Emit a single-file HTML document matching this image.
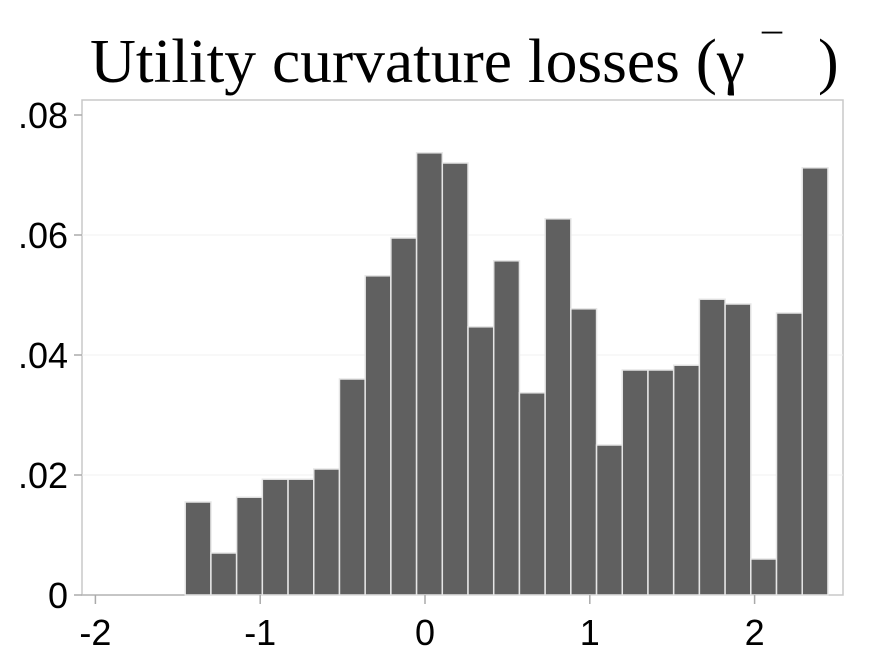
<!DOCTYPE html>
<html><head><meta charset="utf-8"><style>
html,body{margin:0;padding:0;background:#fff;}
svg{display:block;font-family:"Liberation Sans",Arial,sans-serif;}
</style></head><body>
<svg id="chart" width="876" height="657" viewBox="0 0 876 657">
<text x="90" y="82" font-family="Liberation Serif, serif" font-size="62" textLength="655" lengthAdjust="spacingAndGlyphs">Utility curvature losses (γ</text>
<text x="762" y="62" font-family="Liberation Serif, serif" font-size="40">¯</text>
<text x="818" y="82" font-family="Liberation Serif, serif" font-size="62">)</text>
<rect x="82" y="100" width="761" height="495" fill="none" stroke="#c8c8c8" stroke-width="1.5"/>
<g id="grid"></g><g id="bars"></g><g id="axes"></g>
</svg>
<script>
const binStart = -1.455;
const binWidth = 0.156;
const densities = [0.0155,0.007,0.0163,0.0193,0.0193,0.021,0.036,0.0532,0.0595,0.0737,0.072,0.0447,0.0557,0.0337,0.0627,0.0477,0.025,0.0375,0.0375,0.0383,0.0493,0.0485,0.006,0.047,0.0712];
const xTicks = [-2,-1,0,1,2];
const xTickLabels = ["-2","-1","0","1","2"];
const yTicks = [0,0.02,0.04,0.06,0.08];
const yTickLabels = ["0",".02",".04",".06",".08"];
const NS="http://www.w3.org/2000/svg";
const X = v => 425 + (v)*164.8;
const Y = v => 595 - v*6000;
function mk(tag, attrs, parent){const e=document.createElementNS(NS,tag);for(const k in attrs)e.setAttribute(k,attrs[k]);parent.appendChild(e);return e;}
const grid=document.getElementById('grid'),bars=document.getElementById('bars'),axes=document.getElementById('axes');
yTicks.forEach((t,i)=>{
  if(t>0&&t<0.08){const g=mk('line',{x1:82,x2:843,y1:Y(t),y2:Y(t),stroke:'#f0f0f0','stroke-width':1},grid);
  
  }
  const tk=mk('line',{x1:74,x2:82,y1:Y(t),y2:Y(t),stroke:'#aaa','stroke-width':1.5},axes);
  
  
  const lb=mk('text',{x:68,y:Y(t)+13,'text-anchor':'end','font-size':36},axes);
  lb.textContent=yTickLabels[i];
  
  
});
xTicks.forEach((t,i)=>{
  const tk=mk('line',{x1:X(t),x2:X(t),y1:595,y2:604,stroke:'#aaa','stroke-width':1.5},axes);
  
  
  const lb=mk('text',{x:X(t),y:645,'text-anchor':'middle','font-size':36},axes);
  lb.textContent=xTickLabels[i];
  
  
});
const base=mk('line',{x1:82,x2:X(binStart),y1:595,y2:595,stroke:'#bbb','stroke-width':1.5},bars);


densities.forEach((d,i)=>{
  const x0=X(binStart+i*binWidth),x1=X(binStart+(i+1)*binWidth);
  const r=mk('rect',{x:x0,y:Y(d),width:x1-x0,height:595-Y(d),fill:'#606060',stroke:'#e6e6e6','stroke-width':1.5},bars);
  
  
});
</script>
</body></html>
